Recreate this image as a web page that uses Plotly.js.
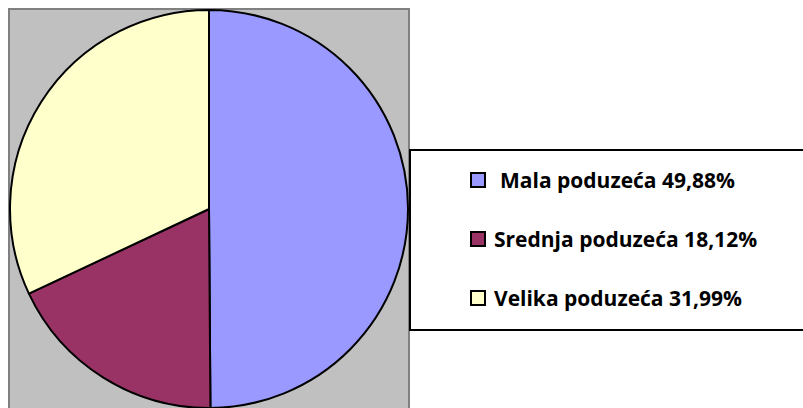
<!DOCTYPE html>
<html>
<head>
<meta charset="utf-8">
<script src="https://cdn.plot.ly/plotly-3.0.1.min.js"></script>
<style>html,body{margin:0;padding:0;background:#fff;}#chart{width:803px;height:408px;}</style>
</head>
<body>
<div id="chart"></div>
<script>
const categories = ["Mala poduzeća", "Srednja poduzeća", "Velika poduzeća"];
const values = [49.88, 18.12, 31.99];
const valueLabels = ["49,88%", "18,12%", "31,99%"];
const colors = ["#9999FF", "#993366", "#FFFFCC"];

const W = 803, H = 408;
const px = x => x / W;
const py = y => (H - y) / H;

const trace = {
  type: "pie",
  labels: categories,
  values: values,
  sort: false,
  direction: "clockwise",
  rotation: 0,
  textinfo: "none",
  hoverinfo: "label+percent",
  showlegend: false,
  marker: { colors: colors, line: { color: "#000000", width: 2 } },
  domain: { x: [px(9), px(409)], y: [0, 398 / H] }
};

const shapes = [
  { type: "rect", xref: "paper", yref: "paper", layer: "below",
    x0: px(9), x1: px(409), y0: py(420), y1: py(9),
    fillcolor: "#C0C0C0", line: { color: "#808080", width: 2 } },
  { type: "rect", xref: "paper", yref: "paper", layer: "above",
    x0: px(410), x1: px(810), y0: py(330), y1: py(150),
    fillcolor: "#FFFFFF", line: { color: "#000000", width: 2 } }
];
const annotations = [];
const rowY = [180, 239, 298];
const textX = [498, 492, 492];
categories.forEach((c, i) => {
  shapes.push({ type: "rect", xref: "paper", yref: "paper", layer: "above",
    x0: px(471), x1: px(485), y0: py(rowY[i] + 7), y1: py(rowY[i] - 7),
    fillcolor: colors[i], line: { color: "#000000", width: 2 } });
  annotations.push({ xref: "paper", yref: "paper", x: px(textX[i]), y: py(rowY[i]),
    xanchor: "left", yanchor: "middle", showarrow: false,
    text: "<b>" + c + " " + valueLabels[i] + "</b>",
    font: { family: "Open Sans, sans-serif", size: 21, color: "#000000" } });
});

const layout = {
  width: W, height: H,
  margin: { l: 0, r: 0, t: 0, b: 0 },
  paper_bgcolor: "#FFFFFF",
  showlegend: false,
  shapes: shapes,
  annotations: annotations
};

Plotly.newPlot("chart", [trace], layout, { displayModeBar: false, staticPlot: true });
</script>
</body>
</html>
